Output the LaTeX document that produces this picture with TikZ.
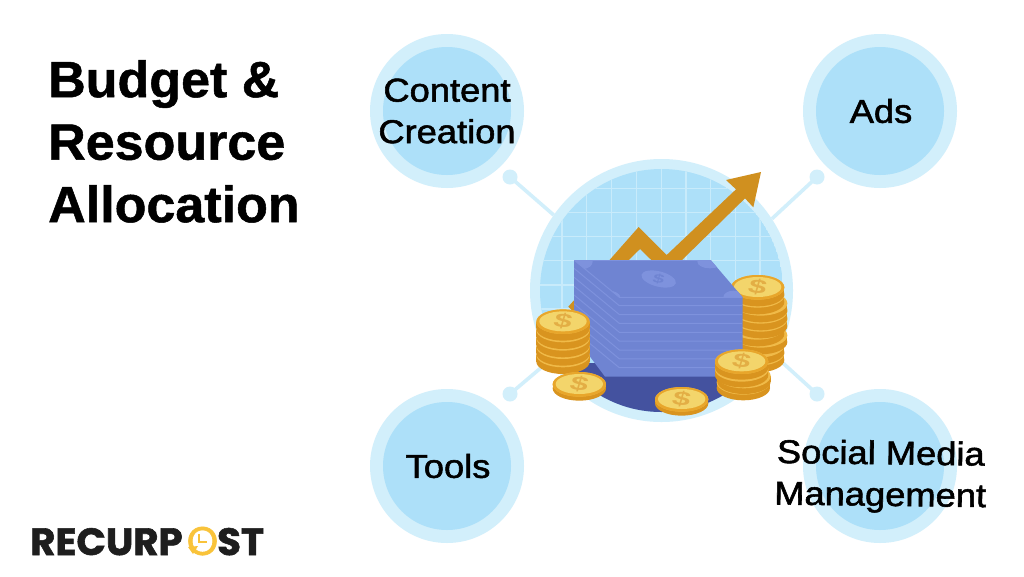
\documentclass[tikz,border=0pt]{standalone}
\usepackage{fontspec}
\setmainfont{Liberation Sans}
\newfontfamily\lblfont[FakeBold=1.6]{Liberation Sans}
\newfontfamily\titlefont[BoldFeatures={FakeBold=1}]{Liberation Sans}
\newfontfamily\logofont[FakeBold=1.5]{Poppins}
\newfontfamily\logoring[FakeBold=1.5]{Poppins}
\definecolor{ringc}{HTML}{D2EFFB}
\definecolor{innerc}{HTML}{ADE0F9}
\definecolor{gridc}{HTML}{C8EBFB}
\definecolor{arrowc}{HTML}{D0901F}
\definecolor{stackc}{HTML}{6F84D2}
\definecolor{stackl}{HTML}{7E92DD}
\definecolor{basec}{HTML}{44529F}
\definecolor{coinside}{HTML}{D9941F}
\definecolor{coinrim}{HTML}{E8A62B}
\definecolor{coinstripe}{HTML}{F0BA48}
\definecolor{coinface}{HTML}{F3D56B}
\definecolor{coindollar}{HTML}{E3AE45}
\definecolor{logoblack}{HTML}{1E1E1E}
\definecolor{logoyellow}{HTML}{F9C33A}
\newcounter{coinid}
\newcommand\coinlayer[3]{% x y thickness
  \fill[coinside] ({#1-80},#2) rectangle ({#1+80},{#2+#3});
  \fill[coinside] (#1,{#2+#3}) ellipse [x radius=80,y radius=37];
  \fill[coinstripe] (#1,#2) ellipse [x radius=80,y radius=37];
}
\newcommand\coinface[2]{% x y
  \stepcounter{coinid}
  \fill[coinrim] (#1,#2) ellipse [x radius=80,y radius=37];
  \fill[coinface] (#1,{#2-1}) ellipse [x radius=71,y radius=30];
  \node[dollar] (coin\thecoinid) at (#1,{#2-2}) {\$};
}
\tikzset{
  outerdisc/.style={circle,fill=ringc,minimum size=154pt,inner sep=0pt},
  innerdisc/.style={circle,fill=innerc,minimum size=128pt,inner sep=0pt},
  hubdisc/.style={circle,fill=ringc,minimum size=263pt,inner sep=0pt},
  linkdot/.style={circle,fill=ringc,minimum size=15pt,inner sep=0pt},
  linkline/.style={draw=ringc,line width=3.6pt},
  label/.style={font=\lblfont\fontsize{33}{41.5}\selectfont,align=center,text=black,inner sep=0pt,xscale=1.10},
  titletext/.style={font=\titlefont\bfseries\fontsize{51}{62.5}\selectfont,align=left,text=black,inner sep=0pt,anchor=north west,xscale=1.02},
  gridline/.style={draw=gridc,line width=1.5pt},
  dollar/.style={font=\bfseries\fontsize{27}{27}\selectfont,text=coindollar,inner sep=0pt,xscale=1.2,yscale=.72,rotate=-10},
  logotext/.style={font=\logofont\bfseries\fontsize{38}{38}\selectfont,text=logoblack,inner sep=0pt,xscale=1.02}
}
\begin{document}
\begin{tikzpicture}[x=1pt,y=-1pt]
\useasboundingbox (0,0) rectangle (1024,576);
\fill[white] (0,0) rectangle (1024,576);
% title
\node[titletext] (title) at (48,60) {Budget \&\\Resource\\Allocation};
% hub
\node[hubdisc] (hub) at (661.5,290.5) {};
% satellites
\node[outerdisc] (tlo) at (447,111) {};
\node[outerdisc] (tro) at (880,111) {};
\node[outerdisc] (blo) at (447,466) {};
\node[outerdisc] (bro) at (880,466) {};
\node[innerdisc] (tli) at (447,111) {};
\node[innerdisc] (tri) at (880,111) {};
\node[innerdisc] (bli) at (447,466) {};
\node[innerdisc] (bri) at (880,466) {};
% connectors
\node[linkdot] (dtl) at (510,177) {};
\node[linkdot] (dtr) at (817,177) {};
\node[linkdot] (dbl) at (510,394) {};
\node[linkdot] (dbr) at (817,394) {};
\draw[linkline] (dtl.center) -- (hub.145);
\draw[linkline] (dtr.center) -- (hub.33);
\draw[linkline] (dbl.center) -- (hub.212);
\draw[linkline] (dbr.center) -- (hub.330);
% labels
\node[label] (l1) at (447,111) {Content\\Creation};
\node[label] (l2) at (881,111) {Ads};
\node[label] (l3) at (448,466) {Tools};
\node[label,rotate=-0.8] (l4) at (880.5,476.5) {Social Media\\Management};
% illustration
\begin{scope}
  \clip (661.5,290.5) circle [radius=121.5];
  \fill[innerc] (661.5,290.5) circle [radius=121.5];
  \foreach \gx in {562,586.7,611.5,636.7,661.7,686,710.7,735.3,760}
    \draw[gridline] (\gx,160) -- (\gx,420);
  \foreach \gy in {188.3,212.7,236.7,260.7,285,309,333.5}
    \draw[gridline] (530,\gy) -- (790,\gy);
  \fill[basec] (530,363) rectangle (790,420);
\end{scope}
\begin{scope}[shift={(500,150)},x=0.33333pt,y=-0.33333pt]
  \fill[arrowc] (783,66) -- (678,90) -- (708,118) -- (500,315) -- (416,231) -- (205,470)
     -- (225,490) -- (420,297) -- (500,375) -- (735,145) -- (760,172) -- cycle;
  % right tall stack (behind the bills)
  \coinlayer{773}{610}{20}
  \coinlayer{773}{586}{20}
  \coinlayer{782}{556}{20}
  \coinlayer{773}{532}{20}
  \coinlayer{782}{508}{20}
  \coinlayer{782}{484}{20}
  \coinlayer{782}{460}{20}
  \coinlayer{773}{436}{20}
  \coinlayer{773}{412}{20}
  \coinface{773}{412}
  % money stack
  \fill[stackc] (222,330) -- (632,330) -- (728,442) -- (728,680) -- (315,680) -- (222,556) -- cycle;
  \begin{scope}
    \clip (222,330) -- (632,330) -- (728,442) -- (728,680) -- (315,680) -- (222,556) -- cycle;
    \foreach \ly in {467,493.6,520.2,546.8,573.4,600,626.6,653.2}
      \draw[stackl,line width=1pt] (728,\ly) -- (358,\ly) -- (222,{\ly-112});
    \draw[stackl,line width=1pt] (222,330) -- (358,442) -- (728,442);
  \end{scope}
  \begin{scope}
    \clip (222,330) -- (632,330) -- (728,442) -- (358,442) -- cycle;
    \fill[stackl] (248,335) ellipse [x radius=30,y radius=22];
    \fill[stackl] (630,335) ellipse [x radius=38,y radius=20];
    \fill[stackl] (325,442) ellipse [x radius=36,y radius=20];
    \fill[stackl] (700,442) ellipse [x radius=30,y radius=20];
  \end{scope}
  \draw[stackl,line width=1pt] (222,331) -- (632,331);
  \fill[stackl,rotate around={-14:(476,387)}] (476,387) ellipse [x radius=53,y radius=23];
  \node[dollar,font=\bfseries\fontsize{17}{17}\selectfont,text=stackc] (billsign) at (476,387) {\$};
  % left coin stack
  \foreach \cy in {615,590,565,540,515} { \coinlayer{189}{\cy}{20} }
  \coinface{189}{515}
  % single coins
  \coinlayer{238}{703}{12}
  \coinface{238}{703}
  \coinlayer{545}{748}{12}
  \coinface{545}{748}
  % front right stack
  \coinlayer{730}{697}{17}
  \coinlayer{732}{678}{17}
  \coinlayer{725}{658}{17}
  \coinlayer{725}{635}{17}
  \coinface{725}{635}
\end{scope}
% logo
\node[logotext,anchor=base west] (logoa) at (30,555) {RECURP};
\node[inner sep=0pt,anchor=base,text=logoyellow,font=\logoring\fontsize{40}{40}\selectfont] (logoo) at (202.5,555) {O};
\node[logotext,anchor=base west] (logob) at (217,555) {ST};
\draw[draw=logoyellow,line width=2pt,line join=miter] (198.5,534) -- (198.5,542) -- (206.5,542);
\fill[logoyellow] (188,547) -- (198,546) -- (193,554) -- cycle;
\end{tikzpicture}
\end{document}
